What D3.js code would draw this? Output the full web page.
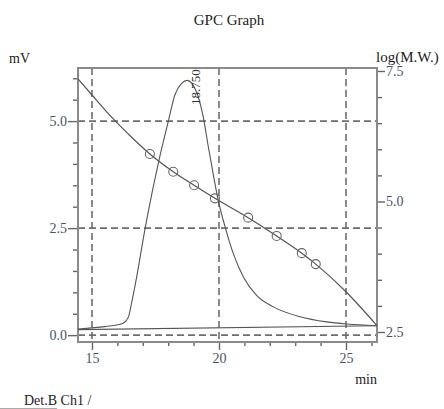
<!DOCTYPE html>
<html>
<head>
<meta charset="utf-8">
<script src="https://cdn.jsdelivr.net/npm/d3@7"></script>
<style>
  html, body { margin: 0; padding: 0; background: #fff; }
  svg { display: block; }
  text { font-family: "Liberation Serif", "Times New Roman", serif; }
</style>
</head>
<body>
<svg id="chart" width="444" height="409"></svg>
<script>
// ---- Data ----
const chromTime = [14.45, 15.0, 15.5, 15.9, 16.2, 16.35, 16.45, 16.56, 16.76, 17.09, 17.41, 17.65, 18.0, 18.27, 18.53, 18.75, 18.93, 19.18, 19.38, 19.58, 19.78, 19.97, 20.24, 20.56, 20.96, 21.48, 22.14, 23.19, 24.24, 25.03, 26.22];
const chromMV   = [0.14, 0.17, 0.20, 0.23, 0.27, 0.34, 0.45, 0.75, 1.36, 2.49, 3.46, 4.12, 4.98, 5.62, 5.88, 5.95, 5.88, 5.57, 5.10, 4.40, 3.74, 3.15, 2.53, 1.91, 1.36, 0.93, 0.66, 0.43, 0.31, 0.26, 0.22];

const calTime = [14.45, 15.0, 15.5, 16.0, 16.5, 17.28, 18.20, 19.02, 19.84, 21.15, 22.27, 23.26, 23.81, 25.0, 26.22];
const calLogMW = [7.35, 7.04, 6.76, 6.50, 6.26, 5.91, 5.57, 5.31, 5.06, 4.69, 4.34, 4.01, 3.80, 3.27, 2.62];

const stdTime = [17.28, 18.20, 19.02, 19.84, 21.15, 22.27, 23.26, 23.81];
const stdLogMW = [5.91, 5.57, 5.31, 5.06, 4.69, 4.34, 4.01, 3.80];

const baseTime = [14.45, 26.22];
const baseMV = [0.13, 0.22];

const peakTime = 18.750;
const peakLabel = "18.750";

const xMajor = [15, 20, 25];
const xMinor = [16, 17, 18, 19, 21, 22, 23, 24, 26];
const yLMajor = [0.0, 2.5, 5.0];
const yLMinor = [0.5, 1.0, 1.5, 2.0, 3.0, 3.5, 4.0, 4.5, 5.5, 6.0];
const yRMajor = [2.5, 5.0, 7.5];
const yRMinor = [3.0, 3.5, 4.0, 4.5, 5.5, 6.0, 6.5, 7.0];

// ---- Layout ----
const L = 78, R = 377, T = 68, B = 342;
const svg = d3.select("#chart");

const x = d3.scaleLinear().domain([14.45, 26.22]).range([L, R]);
const yL = d3.scaleLinear().domain([-0.16, 6.24]).range([B, T]);
const yR = d3.scaleLinear().domain([2.308, 7.557]).range([B, T]);

const gridColor = "#6e6e6e";
const axisColor = "#8a8a8a";
const lineColor = "#555";
const labelColor = "#46536a";

// Grid
const grid = svg.append("g").attr("stroke", gridColor).attr("stroke-width", 1.6).attr("stroke-dasharray", "7,4");
grid.selectAll("line.v").data(xMajor).join("line")
  .attr("x1", d => x(d)).attr("x2", d => x(d)).attr("y1", T).attr("y2", B);
grid.selectAll("line.h").data(yLMajor).join("line")
  .attr("x1", L).attr("x2", R).attr("y1", d => yL(d)).attr("y2", d => yL(d));

// Axes
const fmt = d3.format(".1f");
function styleAxis(g) {
  g.select(".domain").remove();
  g.selectAll(".tick line").attr("stroke", "#666").attr("stroke-width", 1.4);
  g.selectAll(".tick text").attr("fill", labelColor).style("font-size", "14px")
    .style("font-family", '"Liberation Serif", "Times New Roman", serif');
}
svg.append("g").attr("transform", `translate(0,${B})`)
  .call(d3.axisBottom(x).tickValues(xMinor).tickSize(4).tickFormat(""))
  .call(styleAxis);
svg.append("g").attr("transform", `translate(0,${B})`)
  .call(d3.axisBottom(x).tickValues(xMajor).tickSize(8).tickPadding(3).tickFormat(d3.format("d")))
  .call(styleAxis);

svg.append("g").attr("transform", `translate(${L},0)`)
  .call(d3.axisLeft(yL).tickValues(yLMinor).tickSize(5).tickFormat(""))
  .call(styleAxis);
svg.append("g").attr("transform", `translate(${L},0)`)
  .call(d3.axisLeft(yL).tickValues(yLMajor).tickSize(10).tickPadding(1).tickFormat(fmt))
  .call(styleAxis);

svg.append("g").attr("transform", `translate(${R},0)`)
  .call(d3.axisRight(yR).tickValues(yRMinor).tickSize(5).tickFormat(""))
  .call(styleAxis);
svg.append("g").attr("transform", `translate(${R},0)`)
  .call(d3.axisRight(yR).tickValues(yRMajor).tickSize(8).tickPadding(1).tickFormat(fmt))
  .call(styleAxis);

// Frame
svg.append("rect").attr("x", L).attr("y", T).attr("width", R - L).attr("height", B - T)
  .attr("fill", "none").attr("stroke", axisColor).attr("stroke-width", 2);

// Baseline
svg.append("path")
  .datum(baseTime.map((t, i) => [t, baseMV[i]]))
  .attr("fill", "none").attr("stroke", lineColor).attr("stroke-width", 1.1)
  .attr("d", d3.line().x(d => x(d[0])).y(d => yL(d[1])));

// Chromatogram
svg.append("path")
  .datum(chromTime.map((t, i) => [t, chromMV[i]]))
  .attr("fill", "none").attr("stroke", lineColor).attr("stroke-width", 1.1)
  .attr("d", d3.line().curve(d3.curveMonotoneX).x(d => x(d[0])).y(d => yL(d[1])));

// Calibration curve
svg.append("path")
  .datum(calTime.map((t, i) => [t, calLogMW[i]]))
  .attr("fill", "none").attr("stroke", lineColor).attr("stroke-width", 1.2)
  .attr("d", d3.line().curve(d3.curveMonotoneX).x(d => x(d[0])).y(d => yR(d[1])));

// Standards
svg.append("g").selectAll("circle").data(stdTime.map((t, i) => [t, stdLogMW[i]])).join("circle")
  .attr("cx", d => x(d[0])).attr("cy", d => yR(d[1])).attr("r", 4.5)
  .attr("fill", "none").attr("stroke", "#666").attr("stroke-width", 1.1);

// Peak label
const px = x(peakTime) + 13, py = 105;
svg.append("text").attr("transform", `translate(${px},${py}) rotate(-90)`)
  .attr("fill", "#333").style("font-size", "13px").text(peakLabel);

// Titles
svg.append("text").attr("x", 229).attr("y", 25).attr("text-anchor", "middle")
  .attr("fill", "#222").style("font-size", "15px").text("GPC Graph");
svg.append("text").attr("x", 9).attr("y", 63).attr("fill", "#222").style("font-size", "14px").text("mV");
svg.append("text").attr("x", 376).attr("y", 62).attr("fill", "#222").style("font-size", "15px").text("log(M.W.)");
svg.append("text").attr("x", 377).attr("y", 384).attr("text-anchor", "end").attr("fill", "#222").style("font-size", "14px").text("min");
svg.append("text").attr("x", 24).attr("y", 405).attr("fill", "#222").style("font-size", "14px").text("Det.B Ch1 /");
svg.append("line").attr("x1", 0).attr("x2", 57).attr("y1", 408.5).attr("y2", 408.5)
  .attr("stroke", "#aaa").attr("stroke-width", 1);
</script>
</body>
</html>
